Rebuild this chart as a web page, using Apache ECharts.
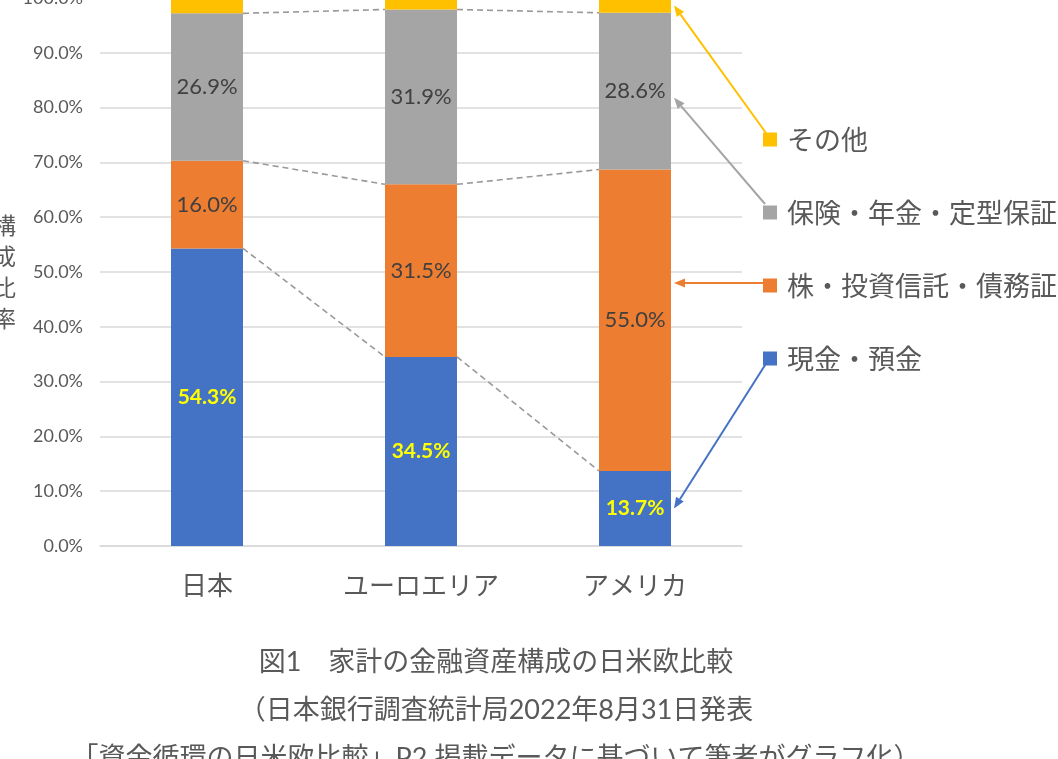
<!DOCTYPE html>
<html>
<head>
<meta charset="utf-8">
<script src="https://cdn.jsdelivr.net/npm/echarts@6/dist/echarts.min.js"></script>
<style>
  html, body { margin: 0; padding: 0; background: #fff; }
  #chart { width: 1058px; height: 759px; }
</style>
</head>
<body>
<div id="chart"></div>
<script>
// 地域
var regions = ['日本', 'ユーロエリア', 'アメリカ'];
// 構成比率 (%)
var cashDeposits = [54.3, 34.5, 13.7];        // 現金・預金
var stocksFunds = [16.0, 31.5, 55.0];         // 株・投資信託・債務証券
var insurancePension = [26.9, 31.9, 28.6];    // 保険・年金・定型保証
var others = [2.8, 2.1, 2.7];                 // その他
var yTicks = [0, 10, 20, 30, 40, 50, 60, 70, 80, 90, 100];

var seriesNames = ['現金・預金', '株・投資信託・債務証券', '保険・年金・定型保証', 'その他'];
var colors = ['#4472C4', '#ED7D31', '#A5A5A5', '#FFC000'];
var CJK = "'Noto Sans CJK JP', sans-serif";
var NUM = "Lato, 'Noto Sans CJK JP', sans-serif";
var BAR_W = 72;

var myChart = echarts.init(document.getElementById('chart'));

// 積み上げ上端（区分線用）
var stacks = [cashDeposits, stocksFunds, insurancePension];
var tops = [];
var acc = [0, 0, 0];
stacks.forEach(function (arr) {
    acc = acc.map(function (v, i) { return v + arr[i]; });
    tops.push(acc.slice());
});
var seriesLineData = [];
tops.forEach(function (t) {
    for (var i = 0; i < t.length - 1; i++) {
        seriesLineData.push([i, t[i], t[i + 1]]);
    }
});

function barSeries(name, data, idx, label) {
    return {
        name: name,
        type: 'bar',
        stack: 'total',
        barWidth: BAR_W,
        data: data,
        itemStyle: { color: colors[idx] },
        label: label,
        emphasis: { disabled: true },
        z: 3
    };
}

var darkLabel = {
    show: true, position: 'inside', color: '#404040',
    fontSize: 22, fontFamily: NUM,
    formatter: function (p) { return p.value.toFixed(1) + '%'; }
};

var option = {
    animation: false,
    grid: { left: 100, right: 316, top: -2, bottom: 213, outerBoundsMode: 'none', containLabel: false },
    legend: {
        orient: 'vertical',
        left: 763,
        top: 126,
        padding: 0,
        itemWidth: 14,
        itemHeight: 14,
        itemGap: 46,
        icon: 'rect',
        selectedMode: false,
        data: ['その他', '保険・年金・定型保証', '株・投資信託・債務証券', '現金・預金'],
        textStyle: { color: '#595959', fontSize: 27, lineHeight: 26, fontFamily: CJK, padding: [0, 0, 0, 5] }
    },
    xAxis: {
        type: 'category',
        data: regions,
        axisTick: { show: false },
        axisLine: { lineStyle: { color: '#d9d9d9', width: 1.5 } },
        axisLabel: { color: '#595959', fontSize: 26, fontFamily: CJK, margin: 26 }
    },
    yAxis: {
        type: 'value',
        min: yTicks[0],
        max: yTicks[yTicks.length - 1],
        interval: yTicks[1] - yTicks[0],
        name: '構\n成\n比\n率',
        nameLocation: 'middle',
        nameRotate: 0,
        nameGap: 84,
        nameTextStyle: { color: '#595959', fontSize: 23, lineHeight: 31, fontFamily: CJK },
        axisLabel: {
            color: '#595959', fontSize: 18, fontFamily: NUM, margin: 17,
            formatter: function (v) { return v.toFixed(1) + '%'; }
        },
        splitLine: { lineStyle: { color: '#d9d9d9', width: 1.5 } }
    },
    series: [
        barSeries(seriesNames[0], cashDeposits, 0, {
            show: true, position: 'inside', color: '#FFFF00', fontWeight: 'bold',
            fontSize: 21, fontFamily: NUM,
            formatter: function (p) { return p.value.toFixed(1) + '%'; }
        }),
        barSeries(seriesNames[1], stocksFunds, 1, darkLabel),
        barSeries(seriesNames[2], insurancePension, 2, darkLabel),
        barSeries(seriesNames[3], others, 3, { show: false }),
        {
            name: 'series-lines',
            type: 'custom',
            data: seriesLineData,
            encode: { x: 0, y: 1 },
            silent: true,
            z: 2,
            renderItem: function (params, api) {
                var i = api.value(0);
                var p1 = api.coord([i, api.value(1)]);
                var p2 = api.coord([i + 1, api.value(2)]);
                return {
                    type: 'line',
                    shape: { x1: p1[0] + BAR_W / 2, y1: p1[1], x2: p2[0] - BAR_W / 2, y2: p2[1] },
                    style: { stroke: '#999999', lineWidth: 1.6, lineDash: [6, 4] }
                };
            }
        }
    ]
};
myChart.setOption(option);

// 凡例からの矢印
var arrowAt = [cashDeposits[2] / 2, 48.0, 81.8, 100 - others[2] / 2];
var arrowFrom = [[767, 362], [763, 283], [765, 204], [766, 133]];
var elems = [];
arrowAt.forEach(function (v, k) {
    var end = myChart.convertToPixel({ xAxisIndex: 0, yAxisIndex: 0 }, [2, v]);
    var ex = end[0] + BAR_W / 2 + 3, ey = end[1];
    var sx = arrowFrom[k][0], sy = arrowFrom[k][1];
    var ang = Math.atan2(ey - sy, ex - sx);
    var L = 11, W = 4.5;
    var bx = ex - L * Math.cos(ang), by = ey - L * Math.sin(ang);
    elems.push({
        type: 'line', silent: true, z: 10,
        shape: { x1: sx, y1: sy, x2: bx, y2: by },
        style: { stroke: colors[k], lineWidth: 2 }
    });
    elems.push({
        type: 'polygon', silent: true, z: 10,
        shape: { points: [[ex, ey], [bx - W * Math.sin(ang), by + W * Math.cos(ang)], [bx + W * Math.sin(ang), by - W * Math.cos(ang)]] },
        style: { fill: colors[k] }
    });
});

// 図のキャプション
var captions = [
    '図1　家計の金融資産構成の日米欧比較',
    '（日本銀行調査統計局2022年8月31日発表',
    '「資金循環の日米欧比較」P2 掲載データに基づいて筆者がグラフ化）'
];
captions.forEach(function (t, k) {
    elems.push({
        type: 'text', silent: true,
        x: 496, y: 662 + k * 48,
        style: { text: t, fill: '#595959', fontSize: 27, fontFamily: NUM, align: 'center', verticalAlign: 'middle' }
    });
});

myChart.setOption({ graphic: { elements: elems } });
</script>
</body>
</html>
